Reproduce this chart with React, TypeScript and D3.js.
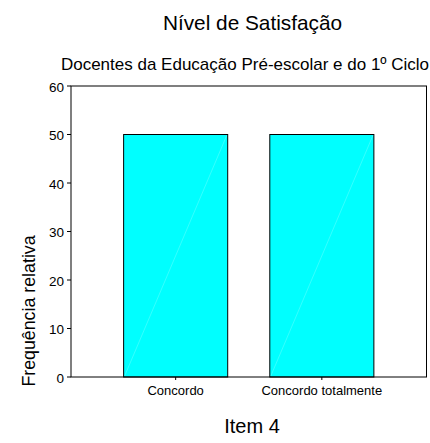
import React from "react";
import * as d3 from "d3";

const categories = ["Concordo", "Concordo totalmente"];
const values = [50, 50];
const yTicks = [0, 10, 20, 30, 40, 50, 60];
const title = "Nível de Satisfação";
const subtitle = "Docentes da Educação Pré-escolar e do 1º Ciclo";
const yLabel = "Frequência relativa";
const xLabel = "Item 4";

export default function App() {
  const W = 430, H = 443;
  const left = 71, right = 426.5, top = 86, bottom = 377;
  const x = d3.scaleBand<string>().domain(categories).range([left, right]).paddingInner(0.288).paddingOuter(0.36);
  const y = d3.scaleLinear().domain([0, 60]).range([bottom, top]);
  const font = "'Liberation Sans', Arial, Helvetica, sans-serif";
  return (
    <svg width={W} height={H} style={{ position: "absolute", left: 0, top: 0, background: "#fff" }} fontFamily={font}>
      <rect x={0} y={0} width={W} height={H} fill="#fff" />
      <text x={252.5} y={30} textAnchor="middle" fontSize={20.8}>{title}</text>
      <text x={245} y={70} textAnchor="middle" fontSize={17}>{subtitle}</text>
      {categories.map((c, i) => {
        const x0 = x(c)!;
        const bw = x.bandwidth();
        return (
          <g key={c}>
            <rect x={x0} y={y(values[i])} width={bw} height={bottom - y(values[i])} fill="#00ffff" stroke="#000" strokeWidth={1} />
            <line x1={x0 + 1} y1={bottom - 1} x2={x0 + bw - 1} y2={y(values[i]) + 1} stroke="#fff" strokeOpacity={0.35} strokeWidth={0.6} />
          </g>
        );
      })}
      <rect x={left} y={top} width={right - left} height={bottom - top} fill="none" stroke="#000" strokeWidth={1} />
      {yTicks.map((t) => (
        <g key={t}>
          <line x1={left - 4} x2={left} y1={y(t)} y2={y(t)} stroke="#000" />
          <text x={left - 7} y={y(t) + 5.5} textAnchor="end" fontSize={13.5}>{t}</text>
        </g>
      ))}
      {categories.map((c) => {
        const cx = x(c)! + x.bandwidth() / 2;
        return (
          <g key={c}>
            <line x1={cx} x2={cx} y1={bottom} y2={bottom + 3} stroke="#000" />
            <text x={cx} y={395} textAnchor="middle" fontSize={13}>{c}</text>
          </g>
        );
      })}
      <text transform={`translate(35,311) rotate(-90)`} textAnchor="middle" fontSize={17.8}>{yLabel}</text>
      <text x={252} y={433} textAnchor="middle" fontSize={20}>{xLabel}</text>
    </svg>
  );
}
